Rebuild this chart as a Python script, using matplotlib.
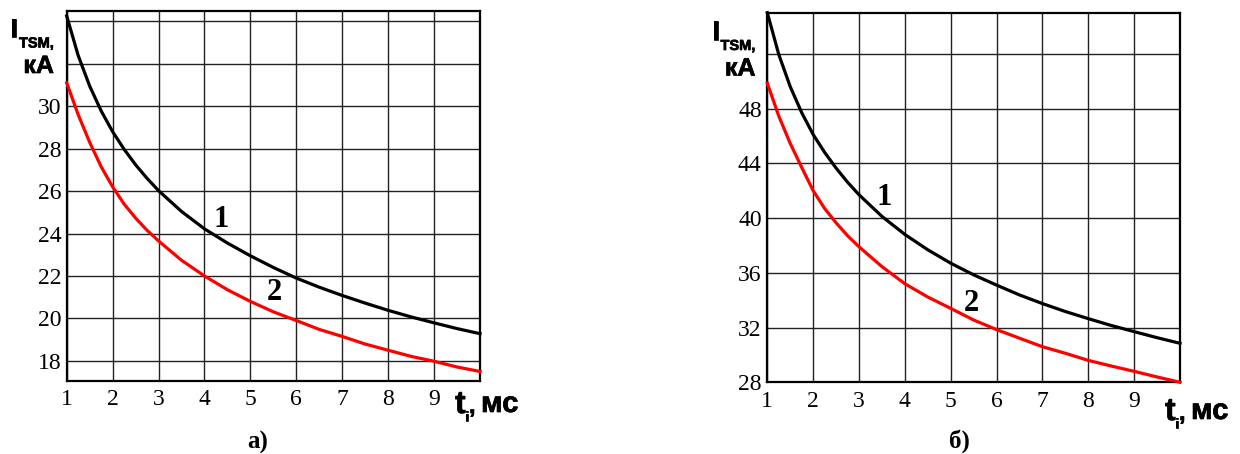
import matplotlib
matplotlib.use("Agg")
import matplotlib.pyplot as plt
import matplotlib.patheffects as pe

# time, ms (shared by both panels)
t_ms = [1, 1.25, 1.5, 1.75, 2, 2.25, 2.5, 2.75, 3, 3.5, 4, 4.5, 5, 5.5,
        6, 6.5, 7, 7.5, 8, 8.5, 9, 9.5, 10]

# panel a)
curve1_a = [34.25, 32.39, 30.95, 29.78, 28.80, 27.97, 27.24, 26.60, 26.02,
            25.04, 24.22, 23.55, 22.95, 22.40, 21.90, 21.47, 21.08, 20.72,
            20.38, 20.07, 19.79, 19.52, 19.28]
curve2_a = [31.1, 29.6, 28.3, 27.15, 26.2, 25.39, 24.73, 24.15, 23.65,
            22.74, 22.0, 21.35, 20.8, 20.31, 19.9, 19.48, 19.15, 18.79,
            18.5, 18.21, 17.98, 17.71, 17.5]
yticks_a = [18, 20, 22, 24, 26, 28, 30, 32, 34]
ylabels_a = ["18", "20", "22", "24", "26", "28", "30", "", ""]

# panel б)
curve1_b = [55.0, 51.95, 49.6, 47.7, 46.1, 44.8, 43.65, 42.62, 41.7,
            40.12, 38.8, 37.68, 36.7, 35.85, 35.1, 34.38, 33.75, 33.17,
            32.65, 32.15, 31.7, 31.26, 30.85]
curve2_b = [49.85, 47.45, 45.45, 43.7, 42.0, 40.7, 39.65, 38.71, 37.9,
            36.45, 35.2, 34.23, 33.4, 32.55, 31.85, 31.22, 30.6, 30.12,
            29.6, 29.19, 28.8, 28.39, 28.0]
yticks_b = [28, 32, 36, 40, 44, 48, 52]
ylabels_b = ["28", "32", "36", "40", "44", "48", ""]

xticks = list(range(1, 11))
xlabels = [str(i) for i in range(1, 10)] + [""]

W, H = 1240, 454
SERIF = "Liberation Serif"
SANS = "Liberation Sans"
HEAVY = [pe.withStroke(linewidth=0.5, foreground="black")]


def px(x, y):
    """pixel (from top-left) -> figure fraction"""
    return x / W, 1 - y / H


def setup_axes(ax, ylim, yticks, ylabels):
    ax.set_xlim(1, 10)
    ax.set_ylim(*ylim)
    ax.set_xticks(xticks)
    ax.set_xticklabels(xlabels, fontfamily=SERIF, fontsize=17)
    ax.set_yticks(yticks)
    ax.set_yticklabels(ylabels, fontfamily=SERIF, fontsize=17)
    ax.tick_params(axis="x", length=0, pad=6.0)
    ax.tick_params(axis="y", length=0, pad=4.0)
    ax.grid(True, color="#222222", linewidth=1.0)
    ax.set_axisbelow(True)
    for s in ax.spines.values():
        s.set_linewidth(1.6)
        s.set_color("black")


def sans(x, y, s, size, ha="left"):
    fig.text(*px(x, y), s, fontfamily=SANS, fontweight="bold", fontsize=size,
             ha=ha, va="baseline", path_effects=HEAVY)


def draw_ylabel(x0, y0):
    # x0, y0: left / baseline of the big "I"
    sans(x0, y0, "I", 19)
    sans(x0 + 8.5, y0 + 10.5, "TSM,", 10.5)
    sans(x0 + 43.5, y0 + 36, "кА", 18, ha="right")


def draw_xlabel(x0, y0):
    # x0, y0: left / baseline of "t"
    sans(x0, y0, "t", 23)
    sans(x0 + 10.5, y0 + 8, "i", 10)
    sans(x0 + 14, y0, ",", 17)
    sans(x0 + 26, y0 - 1, "мс", 21)


fig = plt.figure(figsize=(12.4, 4.54), dpi=100)

ax1 = fig.add_axes([66.7 / W, 1 - 381 / H, 413.3 / W, (381 - 10.7) / H])
setup_axes(ax1, (17.05, 34.5), yticks_a, ylabels_a)
ax1.plot(t_ms, curve1_a, color="black", linewidth=2.3, clip_on=False, zorder=3)
ax1.plot(t_ms, curve2_a, color="#ff0000", linewidth=2.3, clip_on=False, zorder=3)
ax1.text(4.37, 24.68, "1", fontfamily=SERIF, fontweight="bold", fontsize=22,
         ha="center", va="center")
ax1.text(5.53, 21.24, "2", fontfamily=SERIF, fontweight="bold", fontsize=22,
         ha="center", va="center")

ax2 = fig.add_axes([767.3 / W, 1 - 382.3 / H, 412.7 / W, (382.3 - 12.7) / H])
setup_axes(ax2, (28, 55), yticks_b, ylabels_b)
ax2.plot(t_ms, curve1_b, color="black", linewidth=2.3, clip_on=False, zorder=3)
ax2.plot(t_ms, curve2_b, color="#ff0000", linewidth=2.3, clip_on=False, zorder=3)
ax2.text(3.55, 41.48, "1", fontfamily=SERIF, fontweight="bold", fontsize=22,
         ha="center", va="center")
ax2.text(5.44, 33.78, "2", fontfamily=SERIF, fontweight="bold", fontsize=22,
         ha="center", va="center")

draw_ylabel(10.5, 37)
draw_ylabel(712, 39.5)

draw_xlabel(455, 413)
draw_xlabel(1165, 420)

fig.text(*px(257.5, 442), "а)", fontfamily=SERIF, fontweight="bold",
         fontsize=18, ha="center", va="center")
fig.text(*px(959, 441), "б)", fontfamily=SERIF, fontweight="bold",
         fontsize=18, ha="center", va="center")

fig.savefig("out.png", dpi=100)
